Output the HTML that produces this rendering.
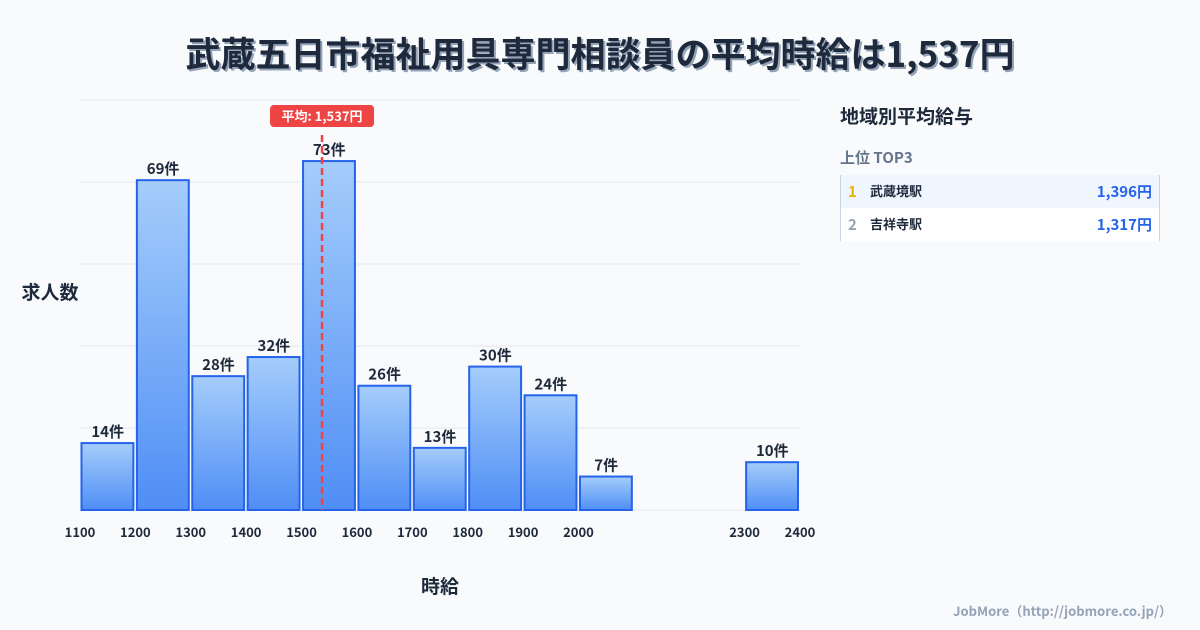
<!DOCTYPE html>
<html><head><meta charset="utf-8"><style>
body{margin:0;width:1200px;height:630px;background:#f8fafc;font-family:"Noto Sans CJK JP","Liberation Sans",sans-serif;overflow:hidden;position:relative}
.title{position:absolute;top:27px;left:0;width:1200px;text-align:center;font-size:35px;line-height:52px;font-weight:bold;color:#1e293b;text-shadow:2px 2px 0 #94a3b8}
svg text{font-family:"Noto Sans CJK JP","Liberation Sans",sans-serif}
</style></head><body>
<div class="title">武蔵五日市福祉用具専門相談員の平均時給は1,537円</div>
<svg id="c" width="1200" height="630" style="position:absolute;left:0;top:0"></svg>
<script>
const binStarts=[1100,1200,1300,1400,1500,1600,1700,1800,1900,2000,2300];
const counts=[14,69,28,32,73,26,13,30,24,7,10];
const xTicks=[1100,1200,1300,1400,1500,1600,1700,1800,1900,2000,2300,2400];
const meanValue=1537;
const meanLabel="平均: 1,537円";
const ranks=["1","2"];
const stations=["武蔵境駅","吉祥寺駅"];
const wages=["1,396円","1,317円"];

const NS="http://www.w3.org/2000/svg";
const svg=document.getElementById('c');
const X=v=>80+(v-1100)*720/1300;
const Y=v=>510-v*4.78;
function mk(t,a,txt){const e=document.createElementNS(NS,t);for(const k in a)e.setAttribute(k,a[k]);if(txt!==undefined)e.textContent=txt;svg.appendChild(e);return e;}
const defs=mk('defs',{});
defs.innerHTML='<linearGradient id="g" x1="0" y1="0" x2="0" y2="1"><stop offset="0" stop-color="#a5cdfb"/><stop offset="1" stop-color="#4f8ef5"/></linearGradient>';
for(let i=0;i<6;i++){const g=mk('line',{x1:80,x2:800,y1:100+i*82,y2:100+i*82,stroke:'#e2e8f0','stroke-width':1});
}
const bw=X(1200)-X(1100);
binStarts.forEach((b,i)=>{
 const x0=X(b),y0=Y(counts[i]);
 const r=mk('rect',{x:x0+1.5,y:y0,width:bw-3.5,height:510-y0,fill:'url(#g)',stroke:'#2563eb','stroke-width':2});
 
 const t=mk('text',{x:x0+bw/2,y:y0-6,'text-anchor':'middle','font-size':15,'font-weight':'bold',fill:'#1e293b'},counts[i]+'件');
 
});
xTicks.forEach(v=>{const t=mk('text',{x:X(v),y:537,'text-anchor':'middle','font-size':13,'font-weight':'bold',fill:'#1e293b'},v);
});
const mx=X(meanValue);
const ml=mk('line',{x1:mx,x2:mx,y1:135,y2:510,stroke:'#ef4444','stroke-width':2.5,'stroke-dasharray':'7,4'});

const mb=mk('rect',{x:mx-52,y:105,width:104,height:22,rx:4,fill:'#ef4444'});

const mt=mk('text',{x:mx,y:121,'text-anchor':'middle','font-size':13,'font-weight':'bold',fill:'#fff'},meanLabel);

const yt=mk('text',{x:50,y:299,'text-anchor':'middle','font-size':19,'font-weight':'bold',fill:'#1e293b'},'求人数');

const xt=mk('text',{x:440,y:593,'text-anchor':'middle','font-size':19,'font-weight':'bold',fill:'#1e293b'},'時給');

const ph=mk('text',{x:840,y:123,'font-size':19,'font-weight':'bold',fill:'#1e293b'},'地域別平均給与');

const ps=mk('text',{x:840,y:163,'font-size':15,'font-weight':'bold',fill:'#64748b'},'上位 TOP3');

stations.forEach((s,i)=>{
 const y=175+i*33;
 const r=mk('rect',{x:840,y:y,width:320,height:33,fill:i==0?'#eff6ff':'#ffffff'});
 
 const a=mk('text',{x:848,y:y+22,'font-size':15,'font-weight':'bold',fill:i==0?'#eab308':'#94a3b8'},ranks[i]);
 
 const b=mk('text',{x:870,y:y+21,'font-size':13,'font-weight':'bold',fill:'#1e293b'},s);
 
 const c=mk('text',{x:1152,y:y+22,'text-anchor':'end','font-size':15,'font-weight':'bold',fill:'#2563eb'},wages[i]);
 
});
const bl=mk('line',{x1:840.5,x2:840.5,y1:175,y2:241,stroke:'#cbd5e1'});

const br=mk('line',{x1:1159.5,x2:1159.5,y1:175,y2:241,stroke:'#cbd5e1'});

const cr=mk('text',{x:1172,y:616,'text-anchor':'end','font-size':13,'font-weight':'bold',fill:'#94a3b8'},'JobMore（http://jobmore.co.jp/）');

</script>
</body></html>
